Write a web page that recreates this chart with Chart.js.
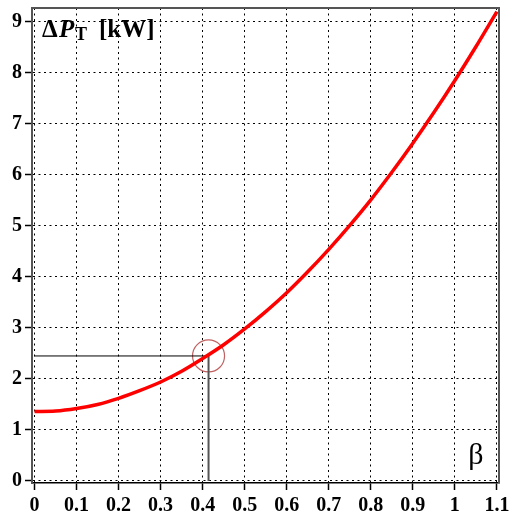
<!DOCTYPE html>
<html>
<head>
<meta charset="utf-8">
<script src="https://cdn.jsdelivr.net/npm/chart.js@4/dist/chart.umd.min.js"></script>
<style>
  html, body { margin: 0; padding: 0; background: #fff; }
  #wrap { width: 510px; height: 518px; position: relative; }
</style>
</head>
<body>
<div id="wrap"><canvas id="myChart" width="510" height="518"></canvas></div>
<script>
// ===================== DADOS =====================

const betaValues = [0, 0.05, 0.1, 0.15, 0.2, 0.25, 0.3, 0.35, 0.4, 0.45, 0.5, 0.55,
  0.6, 0.65, 0.7, 0.75, 0.8, 0.85, 0.9, 0.95, 1.0, 1.05, 1.1];
const lossValues = [1.36, 1.37, 1.42, 1.5, 1.62, 1.77, 1.94, 2.15, 2.4, 2.67, 2.98, 3.32,
  3.69, 4.1, 4.54, 5.01, 5.51, 6.05, 6.62, 7.22, 7.85, 8.51, 9.2];

const xTickValues = [0, 0.1, 0.2, 0.3, 0.4, 0.5, 0.6, 0.7, 0.8, 0.9, 1, 1.1];
const xTickLabels = ["0", "0.1", "0.2", "0.3", "0.4", "0.5", "0.6", "0.7", "0.8", "0.9", "1", "1.1"];
const yTickValues = [0, 1, 2, 3, 4, 5, 6, 7, 8, 9];
const yTickLabels = ["0", "1", "2", "3", "4", "5", "6", "7", "8", "9"];

const markBeta = 0.414;
const markLoss = 2.45;

const serif = "'Liberation Serif', 'Times New Roman', serif";

// ===================== PLUGINS =====================

const frameAndText = {
  id: "frameAndText",
  afterDraw(chart) {
    const { ctx, chartArea: a } = chart;
    ctx.save();
    ctx.strokeStyle = "#555";
    ctx.lineWidth = 2;
    ctx.beginPath();
    ctx.moveTo(a.left, a.bottom);
    ctx.lineTo(a.left, a.top);
    ctx.lineTo(a.right, a.top);
    ctx.lineTo(a.right, a.bottom);
    ctx.stroke();

    ctx.fillStyle = "#000";
    ctx.textBaseline = "alphabetic";
    ctx.textAlign = "left";
    const base = 37;
    ctx.font = "bold 25px " + serif;
    ctx.fillText("Δ", 42, base);
    ctx.font = "italic bold 25px " + serif;
    ctx.fillText("P", 59, base);
    ctx.font = "bold 18px " + serif;
    ctx.fillText("T", 75, base + 2.5);
    ctx.font = "bold 25px " + serif;
    ctx.fillText("[kW]", 99, base);

    ctx.font = "30px " + serif;
    ctx.textAlign = "center";
    ctx.fillText("β", 476, 464);
    ctx.restore();
  },
};

// ===================== GRAFICO =====================

const tickFont = { family: serif, size: 20, weight: "bold" };

const gridOpts = {
  color: "#000",
  lineWidth: 1,
  tickLength: 7,
  tickColor: "#000",
  tickWidth: 1.5,
  tickBorderDash: [],
};

const ctx = document.getElementById("myChart");
new Chart(ctx, {
  type: "line",
  data: {
    datasets: [
      {
        label: "ΔP",
        data: betaValues.map((b, i) => ({ x: b, y: lossValues[i] })),
        borderColor: "#ff0000",
        borderWidth: 3.5,
        pointRadius: 0,
        cubicInterpolationMode: "monotone",
      },
      {
        label: "h",
        data: [{ x: 0, y: markLoss }, { x: markBeta, y: markLoss }],
        borderColor: "#000",
        borderWidth: 1,
        pointRadius: 0,
      },
      {
        label: "v",
        data: [{ x: markBeta, y: markLoss }, { x: markBeta, y: 0 }],
        borderColor: "#555",
        borderWidth: 2,
        pointRadius: 0,
      },
      {
        label: "c",
        data: [{ x: markBeta, y: markLoss }],
        showLine: false,
        pointRadius: 16,
        pointBorderWidth: 1.2,
        pointBorderColor: "#c06060",
        pointBackgroundColor: "rgba(0,0,0,0)",
      },
    ],
  },
  options: {
    responsive: false,
    animation: false,
    events: [],
    layout: { autoPadding: false, padding: { top: 8, right: 11, left: 0, bottom: 0 } },
    plugins: { legend: { display: false }, tooltip: { enabled: false } },
    scales: {
      x: {
        type: "linear",
        min: -0.006,
        max: 1.105,
        afterBuildTicks: (axis) => {
          axis.ticks = xTickValues.map((v) => ({ value: v }));
        },
        afterFit: (axis) => {
          axis.height = 35;
          axis.paddingLeft = 0;
          axis.paddingRight = 0;
        },
        ticks: {
          color: "#000",
          font: tickFont,
          padding: 4,
          maxRotation: 0,
          autoSkip: false,
          callback: (v) => xTickLabels[xTickValues.indexOf(v)],
        },
        grid: gridOpts,
        border: { color: "#000", width: 1.5, dash: [2, 3.5] },
      },
      y: {
        type: "linear",
        min: -0.04,
        max: 9.27,
        afterBuildTicks: (axis) => {
          axis.ticks = yTickValues.map((v) => ({ value: v }));
        },
        afterFit: (axis) => {
          axis.width = 32;
          axis.paddingTop = 0;
          axis.paddingBottom = 0;
        },
        ticks: {
          color: "#000",
          font: tickFont,
          padding: 3,
          autoSkip: false,
          callback: (v) => yTickLabels[yTickValues.indexOf(v)],
        },
        grid: gridOpts,
        border: { color: "#555", width: 2, dash: [2, 3.5] },
      },
    },
  },
  plugins: [frameAndText],
});
</script>
</body>
</html>
